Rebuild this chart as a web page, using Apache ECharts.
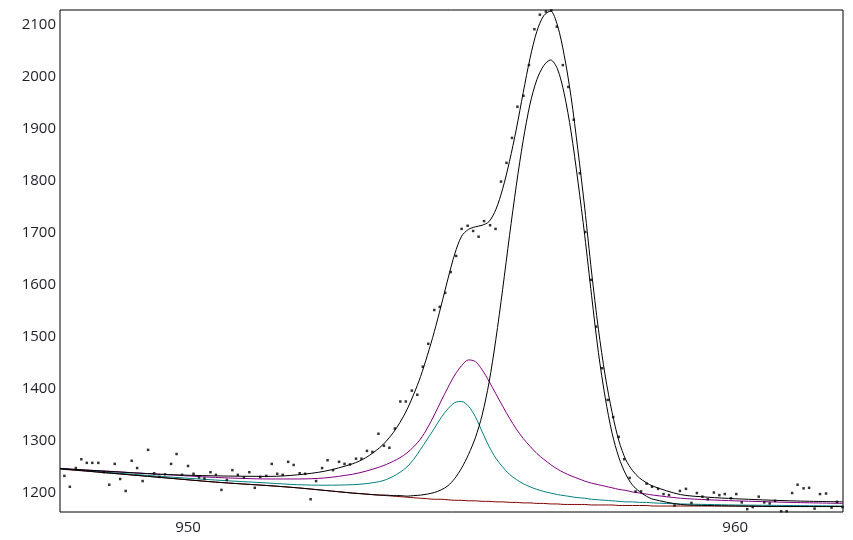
<!DOCTYPE html>
<html>
<head>
<meta charset="utf-8">
<script src="https://cdn.jsdelivr.net/npm/echarts@6/dist/echarts.min.js"></script>
<style>
html,body{margin:0;padding:0;background:#fff;}
#chart{width:853px;height:540px;}
</style>
</head>
<body>
<div id="chart"></div>
<script>
// Tick labels
var xTicks = [950, 960];
var yTicks = [1200, 1300, 1400, 1500, 1600, 1700, 1800, 1900, 2000, 2100];

// Measured points (energy, counts)
var dataEnergy = [
947.64,947.74,947.84,947.95,948.05,948.15,948.25,948.36,948.46,948.56,
948.66,948.76,948.86,948.97,949.07,949.17,949.27,949.38,949.48,949.58,
949.69,949.79,949.89,950.00,950.10,950.20,950.30,950.41,950.51,950.61,
950.71,950.81,950.91,951.02,951.12,951.22,951.32,951.43,951.53,951.63,
951.73,951.83,951.93,952.04,952.14,952.24,952.34,952.45,952.55,952.65,
952.76,952.86,952.96,953.07,953.17,953.27,953.37,953.48,953.58,953.68,
953.78,953.88,953.98,954.09,954.19,954.29,954.39,954.50,954.60,954.70,
954.80,954.90,955.00,955.11,955.21,955.31,955.41,955.52,955.62,955.72,
955.82,955.92,956.02,956.13,956.23,956.33,956.43,956.54,956.64,956.74,
956.85,956.95,957.05,957.16,957.26,957.36,957.46,957.57,957.67,957.77,
957.87,957.97,958.07,958.18,958.28,958.38,958.48,958.59,958.69,958.79,
958.89,958.99,959.10,959.20,959.30,959.40,959.50,959.61,959.71,959.81,
959.92,960.02,960.12,960.22,960.32,960.43,960.53,960.63,960.73,960.84,
960.94,961.04,961.14,961.25,961.35,961.45,961.55,961.66,961.76,961.86,961.96];
var dataCounts = [
1212,1233,1212,1248,1265,1258,1258,1258,1240,1216,
1256,1227,1204,1262,1248,1223,1283,1238,1231,1236,
1256,1275,1235,1252,1237,1230,1228,1240,1235,1206,
1225,1244,1235,1230,1240,1210,1231,1233,1256,1237,
1235,1260,1254,1238,1237,1188,1223,1248,1263,1244,
1260,1256,1255,1266,1266,1281,1279,1314,1291,1287,
1324,1376,1376,1397,1389,1443,1487,1552,1558,1585,
1625,1656,1708,1714,1704,1693,1723,1715,1708,1799,
1835,1883,1943,1964,2023,2092,2120,2126,2128,2097,
2023,1981,1918,1815,1702,1610,1520,1440,1379,1346,
1308,1265,1229,1203,1203,1218,1212,1208,1198,1196,
1176,1204,1208,1181,1200,1193,1188,1201,1196,1198,
1190,1198,1182,1169,1173,1193,1182,1180,1185,1165,
1165,1200,1216,1209,1210,1170,1198,1199,1172,1183,1173];

// Fitted curves, read on a common energy grid
var curveEnergy = [947.66,948.5,949.5,950.5,951.5,952,952.5,953,953.25,
953.5,953.625,953.75,953.875,954,954.125,954.25,954.375,954.5,954.625,
954.75,954.875,955,955.125,955.25,955.375,955.5,955.625,955.75,955.875,
956,956.125,956.25,956.375,956.5,956.625,956.75,956.875,957,957.125,
957.25,957.375,957.5,957.625,957.75,957.875,958,958.125,958.25,958.375,
958.5,959,959.5,960,961,961.97];
var background = [1246,1239,1230,1221,1214,1210,1205,1200,1198,
1196,1195,1194,1193,1192,1191,1190,1189,1188,1188,
1187,1186,1186,1185,1185,1184,1184,1183,1183,1182,
1182,1181,1181,1180,1180,1179,1179,1178,1178,1178,
1178,1177,1177,1177,1177,1176,1176,1176,1176,1176,
1175,1175,1175,1175,1174,1174];
var tealPeak = [1247,1240,1232,1225,1219,1216,1215,1216,1218,
1222,1226,1232,1240,1250,1265,1284,1304,1324,1345,
1362,1374,1376,1367,1347,1318,1290,1267,1250,1236,
1226,1218,1212,1207,1203,1200,1197,1195,1193,1191,
1190,1188,1187,1186,1185,1184,1183,1183,1182,1182,
1181,1179,1178,1177,1176,1175];
var purplePeak = [1247,1242,1236,1230,1227,1227,1229,1236,1242,
1250,1255,1261,1268,1277,1289,1304,1325,1350,1377,
1403,1427,1445,1456,1453,1437,1415,1391,1367,1344,
1323,1305,1290,1276,1265,1255,1246,1239,1233,1228,
1223,1219,1216,1213,1210,1207,1205,1202,1200,1198,
1196,1190,1187,1185,1182,1180];
var mainPeak = [1247,1239,1230,1221,1214,1210,1205,1200,1198,
1196,1196,1195,1195,1194,1195,1196,1198,1201,1206,
1214,1228,1248,1274,1306,1350,1412,1495,1592,1695,
1792,1878,1948,1995,2022,2033,2016,1968,1895,1800,
1695,1580,1470,1383,1315,1268,1236,1215,1203,1194,
1188,1178,1176,1175,1174,1174];
var envelope = [1247,1242,1236,1233,1232,1235,1242,1256,1268,
1287,1300,1316,1336,1360,1390,1424,1465,1510,1560,
1612,1660,1694,1707,1712,1715,1722,1745,1785,1838,
1900,1970,2036,2088,2118,2127,2100,2042,1962,1860,
1748,1625,1515,1425,1355,1300,1264,1243,1229,1220,
1213,1197,1192,1189,1185,1183];

function pairs(xs, ys){ return xs.map(function(x,i){ return [x, ys[i]]; }); }

var chart = echarts.init(document.getElementById('chart'), null, {renderer:'canvas'});
var lineBase = {type:'line', showSymbol:false, smooth:0.3, animation:false, silent:true};
function curve(name, ys, color, z){
  return Object.assign({}, lineBase, {name:name, data:pairs(curveEnergy, ys), lineStyle:{color:color, width:1}, itemStyle:{color:color}, z:z});
}
var labelStyle = {color:'#1e1e28', fontFamily:'Open Sans', fontSize:15,
  formatter:function(v){ return String(v); }};
chart.setOption({
  animation:false,
  backgroundColor:'#fff',
  grid:{left:60, right:10, top:10, bottom:28, show:true, borderColor:'#000', borderWidth:1, containLabel:false},
  xAxis:{type:'value', min:947.66, max:961.97,
    axisLine:{show:false}, axisTick:{show:false}, splitLine:{show:false},
    axisLabel:Object.assign({customValues:xTicks, margin:8}, labelStyle)},
  yAxis:{type:'value', min:1163.5, max:2129,
    axisLine:{show:false}, axisTick:{show:false}, splitLine:{show:false},
    axisLabel:Object.assign({customValues:yTicks, margin:4}, labelStyle)},
  series:[
    curve('Background', background, '#800000', 2),
    curve('Peak 3', tealPeak, '#008080', 3),
    curve('Peak 2', purplePeak, '#800080', 4),
    curve('Peak 1', mainPeak, '#000000', 5),
    curve('Envelope', envelope, '#000000', 6),
    {type:'scatter', name:'Data', data:pairs(dataEnergy, dataCounts), symbol:'rect', symbolSize:2.5,
     itemStyle:{color:'#000'}, z:7, silent:true, animation:false}
  ]
});
</script>
</body>
</html>
